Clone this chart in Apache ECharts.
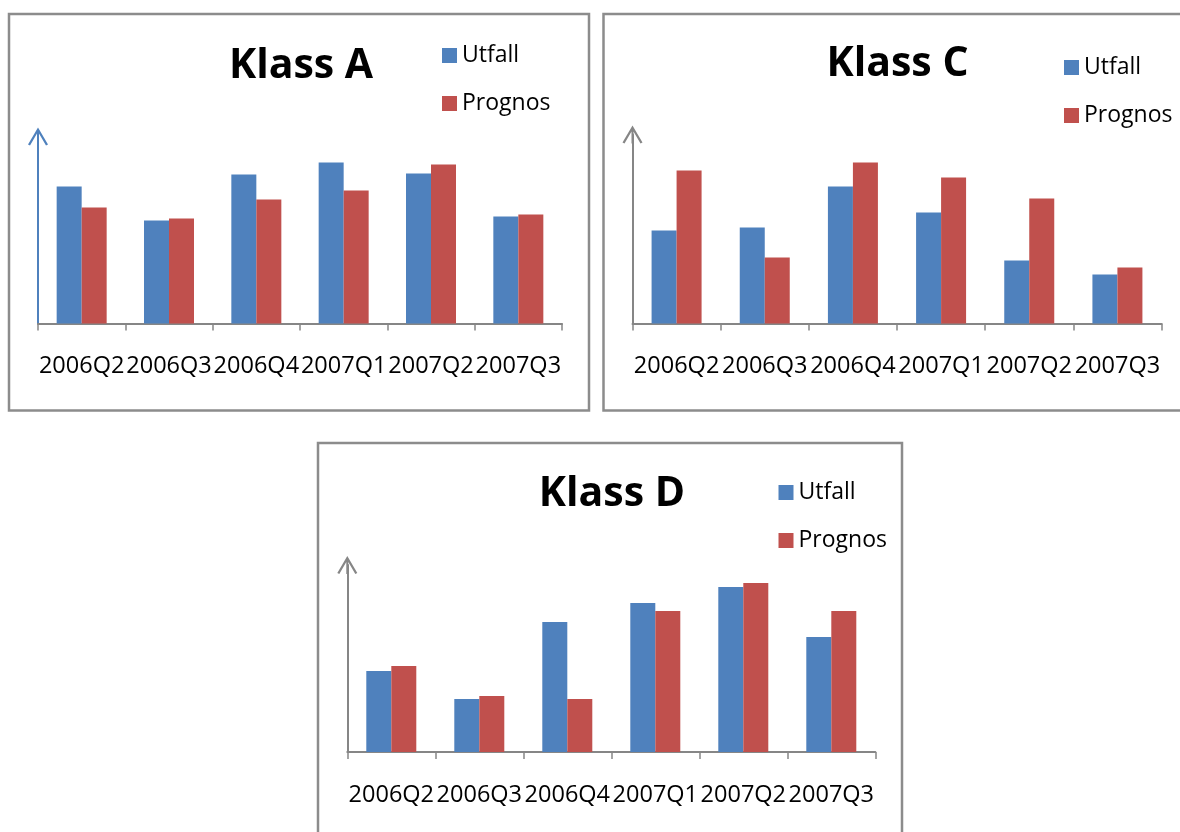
<!DOCTYPE html>
<html>
<head>
<meta charset="utf-8">
<script src="https://cdn.jsdelivr.net/npm/echarts@6/dist/echarts.min.js"></script>
<style>html,body{margin:0;padding:0;background:#fff}#c{width:1180px;height:832px}</style>
</head>
<body>
<div id="c"></div>
<script>
const categories = ['2006Q2','2006Q3','2006Q4','2007Q1','2007Q2','2007Q3'];
const seriesNames = ['Utfall','Prognos'];
const titles = ['Klass A','Klass C','Klass D'];
const utfallA = [137, 103, 149, 161, 150, 107];
const prognosA = [116, 105, 124, 133, 159, 109];
const utfallC = [93, 96, 137, 111, 63, 49];
const prognosC = [153, 66, 161, 146, 125, 56];
const utfallD = [81, 53, 130, 149, 165, 115];
const prognosD = [86, 56, 53, 141, 169, 141];
const yMax = [187, 189, 187];

const BLUE = '#4F81BD', RED = '#C0504D', GRAY = '#868686';
const FONT = 'Open Sans';
const arrowPath = 'path://M10,0 L20,17 L18,18 L11,6.1 L11,18 L9,18 L9,6.1 L2,18 L0,17 Z';

const panels = [
  {grid:{left:38, top:136.5, width:524, height:187}, title:{x:301, y:66}, legend:{left:442, top:43.5}, yColor:BLUE, u:utfallA, p:prognosA},
  {grid:{left:632.5, top:134.5, width:529, height:189}, title:{x:897.5, y:64}, legend:{left:1064, top:55.5}, yColor:GRAY, u:utfallC, p:prognosC},
  {grid:{left:347.3, top:565, width:528, height:187}, title:{x:612, y:494}, legend:{left:778.5, top:480.5}, yColor:GRAY, u:utfallD, p:prognosD}
];

const option = {
  animation:false,
  backgroundColor:'#fff',
  title: panels.map((pn,i)=>({
    text:titles[i], left:pn.title.x, top:pn.title.y, padding:0,
    textAlign:'center', textVerticalAlign:'middle',
    textStyle:{fontFamily:FONT, fontWeight:'bold', fontSize:41, color:'#000'}
  })),
  legend: panels.map(pn=>({
    data:seriesNames, orient:'vertical', left:pn.legend.left, top:pn.legend.top, padding:0,
    itemGap:24, itemWidth:15, itemHeight:15, icon:'rect',
    textStyle:{fontFamily:FONT, fontSize:23, color:'#000', lineHeight:24}
  })),
  grid: panels.map(pn=>Object.assign({containLabel:false}, pn.grid)),
  xAxis: panels.map((pn,i)=>({
    type:'category', gridIndex:i, data:categories,
    axisLine:{lineStyle:{color:GRAY, width:2}},
    axisTick:{show:true, length:7, lineStyle:{color:GRAY, width:1.5}},
    axisLabel:{interval:0, fontFamily:FONT, fontSize:23.5, color:'#000', margin:31, lineHeight:24}
  })),
  yAxis: panels.map((pn,i)=>({
    type:'value', gridIndex:i, min:0, max:yMax[i],
    axisLine:{show:true, lineStyle:{color:pn.yColor, width:2}, symbol:['none', arrowPath], symbolSize:[20,18]},
    axisTick:{show:false}, axisLabel:{show:false}, splitLine:{show:false}
  })),
  series: [].concat(...panels.map((pn,i)=>[
    {name:seriesNames[0], type:'bar', xAxisIndex:i, yAxisIndex:i, data:pn.u, barWidth:25, barGap:'0%', itemStyle:{color:BLUE}},
    {name:seriesNames[1], type:'bar', xAxisIndex:i, yAxisIndex:i, data:pn.p, barWidth:25, barGap:'0%', itemStyle:{color:RED}}
  ])),
  graphic: [
    {type:'rect', shape:{x:9, y:14, width:580, height:396.5}, style:{fill:'none', stroke:'#8c8c8c', lineWidth:2.5}, silent:true},
    {type:'rect', shape:{x:603.5, y:14, width:620, height:396.5}, style:{fill:'none', stroke:'#8c8c8c', lineWidth:2.5}, silent:true},
    {type:'rect', shape:{x:318, y:443, width:584, height:420}, style:{fill:'none', stroke:'#8c8c8c', lineWidth:2.5}, silent:true}
  ]
};
const chart = echarts.init(document.getElementById('c'), null, {renderer:'canvas'});
chart.setOption(option);
</script>
</body>
</html>
